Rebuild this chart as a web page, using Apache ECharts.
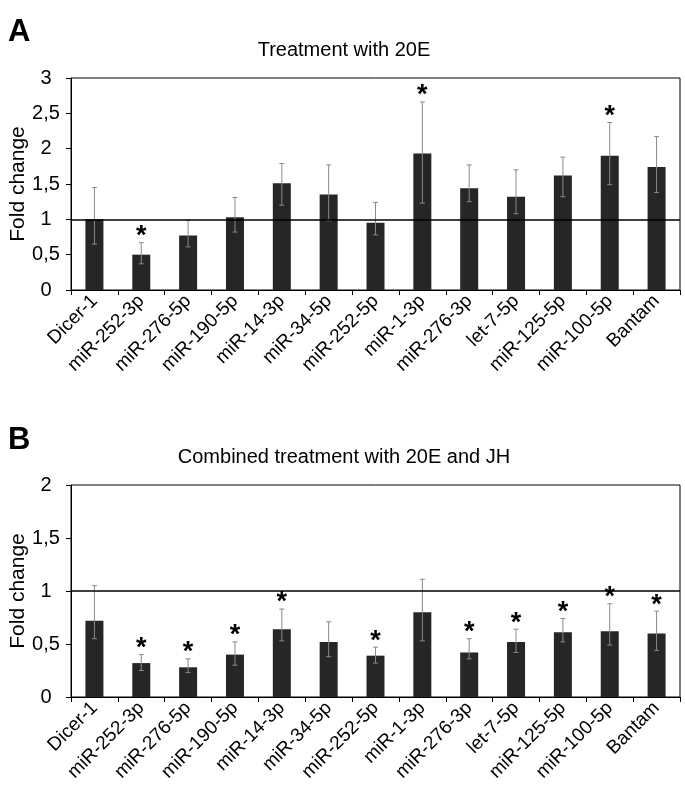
<!DOCTYPE html>
<html>
<head>
<meta charset="utf-8">
<script src="https://cdn.jsdelivr.net/npm/echarts@6/dist/echarts.min.js"></script>
<style>
html,body{margin:0;padding:0;background:#fff;}
#chart{width:685px;height:801px;}
</style>
</head>
<body>
<div id="chart"></div>
<script>
const categories = ['Dicer-1','miR-252-3p','miR-276-5p','miR-190-5p','miR-14-3p','miR-34-5p','miR-252-5p','miR-1-3p','miR-276-3p','let-7-5p','miR-125-5p','miR-100-5p','Bantam'];

// Panel A: Treatment with 20E
const valuesA = [1.00, 0.50, 0.77, 1.03, 1.51, 1.35, 0.95, 1.93, 1.44, 1.32, 1.62, 1.90, 1.74];
const upperA  = [1.45, 0.67, 0.99, 1.31, 1.79, 1.77, 1.24, 2.66, 1.77, 1.70, 1.88, 2.37, 2.17];
const lowerA  = [0.65, 0.37, 0.61, 0.82, 1.20, 0.98, 0.78, 1.23, 1.25, 1.08, 1.32, 1.49, 1.38];
const starsA  = ['', '*', '', '', '', '', '', '*', '', '', '', '*', ''];

// Panel B: Combined treatment with 20E and JH
const valuesB = [0.72, 0.32, 0.28, 0.40, 0.64, 0.52, 0.39, 0.80, 0.42, 0.52, 0.61, 0.62, 0.60];
const upperB  = [1.05, 0.40, 0.36, 0.52, 0.83, 0.71, 0.47, 1.11, 0.55, 0.64, 0.74, 0.88, 0.81];
const lowerB  = [0.55, 0.25, 0.23, 0.30, 0.53, 0.38, 0.32, 0.53, 0.36, 0.42, 0.52, 0.49, 0.44];
const starsB  = ['', '*', '*', '*', '*', '', '*', '', '*', '*', '*', '*', '*'];

const yMaxA = 3, yMaxB = 2, yStep = 0.5;
const refLine = 1;

const FONT = 'Liberation Sans, Arial, Helvetica, sans-serif';

function errData(vals, lo, hi, stars) {
  return vals.map((v, i) => [i, lo[i], hi[i], stars[i]]);
}

function renderErr(params, api) {
  const x = api.value(0);
  const lo = api.value(1), hi = api.value(2);
  const star = api.value(3);
  const pHi = api.coord([x, hi]);
  const pLo = api.coord([x, lo]);
  const cap = 2.5;
  const st = {stroke: '#8a8a8a', lineWidth: 1};
  const children = [
    {type: 'line', shape: {x1: pHi[0], y1: pHi[1], x2: pLo[0], y2: pLo[1]}, style: st},
    {type: 'line', shape: {x1: pHi[0] - cap, y1: pHi[1], x2: pHi[0] + cap, y2: pHi[1]}, style: st},
    {type: 'line', shape: {x1: pLo[0] - cap, y1: pLo[1], x2: pLo[0] + cap, y2: pLo[1]}, style: st}
  ];
  if (star && star !== '' && star !== '-') {
    children.push({
      type: 'text',
      style: {
        text: star, x: pHi[0], y: pHi[1] - 6,
        align: 'center', verticalAlign: 'middle',
        font: 'bold 27px ' + FONT, fill: '#000'
      }
    });
  }
  return {type: 'group', children: children};
}

const fmt = v => String(v).replace('.', ',');

function xAxisCfg(gi) {
  return {
    type: 'category', gridIndex: gi, data: categories,
    axisLine: {lineStyle: {color: '#000', width: 1}},
    axisTick: {show: true, length: 5, inside: false, lineStyle: {color: '#000'}},
    axisLabel: {interval: 0, rotate: 45, fontSize: 19, fontFamily: FONT, color: '#000', margin: 8}
  };
}
function yAxisCfg(gi, max) {
  return {
    type: 'value', gridIndex: gi, min: 0, max: max, interval: yStep,
    name: 'Fold change', nameLocation: 'middle', nameGap: 42, nameMoveOverlap: false,
    nameTextStyle: {fontSize: 21, fontFamily: FONT, color: '#000'},
    axisLine: {show: true, lineStyle: {color: '#000', width: 1}},
    axisTick: {show: true, length: 5, lineStyle: {color: '#000'}},
    splitLine: {show: false},
    axisLabel: {fontSize: 20, fontFamily: FONT, color: '#000', formatter: fmt, align: 'center', margin: 25}
  };
}

const mark = {
  silent: true, symbol: 'none', animation: false,
  label: {show: false},
  lineStyle: {color: '#000', width: 1.5, type: 'solid'},
  data: [{yAxis: refLine}]
};

const chart = echarts.init(document.getElementById('chart'), null, {renderer: 'canvas'});
chart.setOption({
  animation: false,
  backgroundColor: '#fff',
  grid: [
    {left: 71, top: 78, width: 609, height: 212, containLabel: false, outerBoundsMode: 'none', show: true, borderColor: '#000', borderWidth: 1, backgroundColor: 'transparent'},
    {left: 71, top: 485, width: 609, height: 212, containLabel: false, outerBoundsMode: 'none', show: true, borderColor: '#000', borderWidth: 1, backgroundColor: 'transparent'}
  ],
  graphic: [
    {type: 'text', left: 8, top: 17, style: {text: 'A', font: 'bold 31px ' + FONT, fill: '#000'}},
    {type: 'text', x: 344, y: 50, style: {text: 'Treatment with 20E', font: '20px ' + FONT, fill: '#000', align: 'center', verticalAlign: 'middle'}},
    {type: 'text', left: 8, top: 425, style: {text: 'B', font: 'bold 31px ' + FONT, fill: '#000'}},
    {type: 'text', x: 344, y: 457, style: {text: 'Combined treatment with 20E and JH', font: '20px ' + FONT, fill: '#000', align: 'center', verticalAlign: 'middle'}}
  ],
  xAxis: [xAxisCfg(0), xAxisCfg(1)],
  yAxis: [yAxisCfg(0, yMaxA), yAxisCfg(1, yMaxB)],
  series: [
    {type: 'bar', xAxisIndex: 0, yAxisIndex: 0, data: valuesA, barWidth: 18, itemStyle: {color: '#262626'}, markLine: mark, z: 2},
    {type: 'custom', xAxisIndex: 0, yAxisIndex: 0, data: errData(valuesA, lowerA, upperA, starsA), renderItem: renderErr, z: 3,
     encode: {x: 0, y: [1, 2]}},
    {type: 'bar', xAxisIndex: 1, yAxisIndex: 1, data: valuesB, barWidth: 18, itemStyle: {color: '#262626'}, markLine: mark, z: 2},
    {type: 'custom', xAxisIndex: 1, yAxisIndex: 1, data: errData(valuesB, lowerB, upperB, starsB), renderItem: renderErr, z: 3,
     encode: {x: 0, y: [1, 2]}}
  ]
});
</script>
</body>
</html>
